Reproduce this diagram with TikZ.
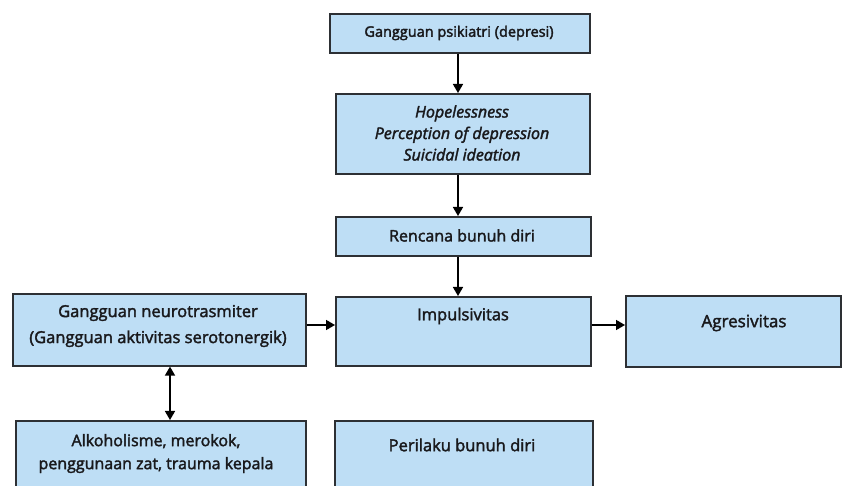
\documentclass[tikz,border=0pt]{standalone}
\usepackage{fontspec}
\setmainfont{Open Sans}
\usetikzlibrary{arrows.meta}
\definecolor{boxfill}{RGB}{190,222,245}
\definecolor{boxline}{RGB}{45,48,52}
\definecolor{txtcol}{RGB}{25,25,28}
\newcommand\heavytext{\special{pdf:literal direct 2 Tr 0.35 w}}
\tikzset{
  box/.style={draw=boxline, fill=boxfill, line width=1.6pt, inner sep=0pt, anchor=north west},
  txt/.style={text=txtcol, font=\fontsize{16}{23}\selectfont\heavytext, align=center, inner sep=0pt},
  arr/.style={draw=black, line width=1.6pt, -{Triangle[length=9pt,width=10pt]}},
  darr/.style={draw=black, line width=1.6pt, {Triangle[length=9pt,width=10pt]}-{Triangle[length=9pt,width=10pt]}}
}
\begin{document}
\begin{tikzpicture}[x=1pt,y=-1pt]
\useasboundingbox (0,0) rectangle (844,486);
\fill[white] (0,0) rectangle (844,486);
\clip (0,0) rectangle (844,486);
% boxes
\node[box, minimum width=260pt, minimum height=39pt] (top) at (329,13) {};
\node[box, minimum width=254pt, minimum height=80pt] (hope) at (335,93) {};
\node[box, minimum width=255pt, minimum height=39pt] (renc) at (335,216) {};
\node[box, minimum width=255pt, minimum height=69pt] (imp) at (335,296) {};
\node[box, minimum width=215pt, minimum height=71pt] (agr) at (625,295) {};
\node[box, minimum width=293pt, minimum height=72pt] (neu) at (12,293) {};
\node[box, minimum width=290pt, minimum height=80pt] (alk) at (15,420) {};
\node[box, minimum width=258pt, minimum height=80pt] (per) at (334,420) {};
% texts
\node[txt, font=\fontsize{14.5}{20}\selectfont\heavytext] (ttop) at (459,33) {Gangguan psikiatri (depresi)};
\node[txt, font=\fontsize{16}{21.5}\selectfont\itshape\heavytext] (thope) at (462,133) {Hopelessness\\Perception of depression\\Suicidal ideation};
\node[txt] (trenc) at (462,235.5) {Rencana bunuh diri};
\node[txt, font=\fontsize{16.5}{23}\selectfont\heavytext] (timp) at (463,316) {Impulsivitas};
\node[txt, font=\fontsize{17}{23}\selectfont\heavytext] (tagr) at (744,323) {Agresivitas};
\node[txt, font=\fontsize{16.5}{26}\selectfont\heavytext] (tneu) at (158,326) {Gangguan neurotrasmiter\\(Gangguan aktivitas serotonergik)};
\node[txt] (talk) at (156,453.5) {Alkoholisme, merokok,\\penggunaan zat, trauma kepala};
\node[txt, font=\fontsize{16.5}{23}\selectfont\heavytext] (tper) at (462,445) {Perilaku bunuh diri};
% guide coordinates
\coordinate (ax) at (458,0);
\coordinate (ay) at (0,325);
\coordinate (dx) at (170,0);
% connectors
\draw[arr] (top.south -| ax) -- (hope.north -| ax);
\draw[arr] (hope.south -| ax) -- (renc.north -| ax);
\draw[arr] (renc.south -| ax) -- (imp.north -| ax);
\draw[arr] (neu.east |- ay) -- (imp.west |- ay);
\draw[arr] (imp.east |- ay) -- (agr.west |- ay);
\draw[darr] (neu.south -| dx) -- (alk.north -| dx);
\end{tikzpicture}
\end{document}
